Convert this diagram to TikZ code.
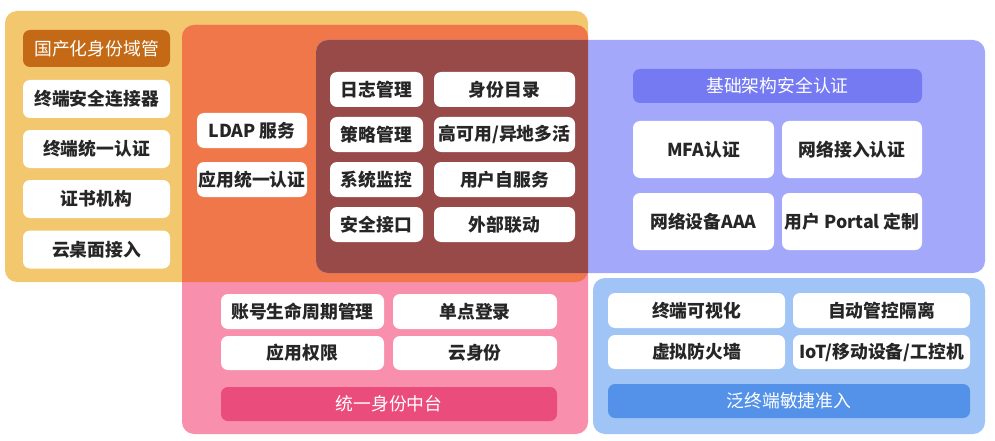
\documentclass[tikz,border=0pt]{standalone}
\usepackage{fontspec}
\setmainfont{Noto Sans CJK SC}
\definecolor{cYellow}{RGB}{243,199,110}
\definecolor{cOrange}{RGB}{239,119,73}
\definecolor{cDark}{RGB}{152,74,72}
\definecolor{cPurple}{RGB}{164,168,250}
\definecolor{cPink}{RGB}{248,143,172}
\definecolor{cBlue}{RGB}{160,196,246}
\definecolor{hBrown}{RGB}{196,106,22}
\definecolor{hPurple}{RGB}{118,122,242}
\definecolor{hPink}{RGB}{234,76,124}
\definecolor{hBlue}{RGB}{84,146,234}
\tikzset{
  cell/.style={fill=white,rounded corners=7pt,inner sep=0pt,text=black!85,
    font=\bfseries\fontsize{17.8}{20}\selectfont},
  head/.style={rounded corners=7pt,inner sep=0pt,text=white,
    font=\fontsize{17.8}{20}\selectfont},
}
\begin{document}
\begin{tikzpicture}[x=1pt,y=-1pt]
  \useasboundingbox[fill=white] (0,0) rectangle (995,441);
  % Regions
  \fill[cYellow,rounded corners=12pt] (5,11) rectangle (588,282);
  \fill[cPink,rounded corners=12pt] (182,25) rectangle (588,434);
  \begin{scope}
    \clip[rounded corners=12pt] (5,11) rectangle (588,282);
    \fill[cOrange,rounded corners=12pt] (182,25) rectangle (588,434);
  \end{scope}
  \fill[cPurple,rounded corners=12pt] (316,40) rectangle (985,273);
  \begin{scope}
    \clip[rounded corners=12pt] (182,25) rectangle (588,434);
    \fill[cDark,rounded corners=12pt] (316,40) rectangle (985,273);
  \end{scope}
  \fill[cBlue,rounded corners=12pt] (593,278) rectangle (985,434);
  % Left column
  \node[head,fill=hBrown,minimum width=147pt,minimum height=37pt] (yuguan) at (96.5,48.5) {国产化身份域管};
  \node[cell,minimum width=147pt,minimum height=38pt] (lianjie) at (96.5,99) {终端安全连接器};
  \node[cell,minimum width=147pt,minimum height=38pt] (zdrz) at (96.5,149) {终端统一认证};
  \node[cell,minimum width=147pt,minimum height=38pt] (zsjg) at (96.5,199) {证书机构};
  \node[cell,minimum width=147pt,minimum height=38pt] (yzm) at (96.5,249.5) {云桌面接入};
  % Orange part
  \node[cell,minimum width=110pt,minimum height=35pt] (ldap) at (252,130.5) {LDAP 服务};
  \node[cell,minimum width=110pt,minimum height=35pt] (yyrz) at (252,179.5) {应用统一认证};
  % Core
  \node[cell,minimum width=93pt,minimum height=35pt] (rizhi) at (376.5,89.5) {日志管理};
  \node[cell,minimum width=93pt,minimum height=35pt] (celue) at (376.5,134.5) {策略管理};
  \node[cell,minimum width=93pt,minimum height=35pt] (jiankong) at (376.5,179.5) {系统监控};
  \node[cell,minimum width=93pt,minimum height=35pt] (jiekou) at (376.5,224.5) {安全接口};
  \node[cell,minimum width=141pt,minimum height=35pt] (mulu) at (504.5,89.5) {身份目录};
  \node[cell,minimum width=141pt,minimum height=35pt] (gaoky) at (504.5,134.5) {高可用/异地多活};
  \node[cell,minimum width=141pt,minimum height=35pt] (zifw) at (504.5,179.5) {用户自服务};
  \node[cell,minimum width=141pt,minimum height=35pt] (liandong) at (504.5,224.5) {外部联动};
  % Infrastructure
  \node[head,fill=hPurple,minimum width=289pt,minimum height=34pt] (jichu) at (777.5,86) {基础架构安全认证};
  \node[cell,minimum width=141pt,minimum height=57pt] (mfa) at (703.5,149.5) {MFA认证};
  \node[cell,minimum width=140pt,minimum height=57pt] (wlrz) at (852,149.5) {网络接入认证};
  \node[cell,minimum width=141pt,minimum height=57pt] (aaa) at (703.5,221.5) {网络设备AAA};
  \node[cell,minimum width=140pt,minimum height=57pt] (portal) at (852,221.5) {用户 Portal 定制};
  % Identity platform
  \node[cell,minimum width=163pt,minimum height=35pt] (zhanghao) at (302.5,311.5) {账号生命周期管理};
  \node[cell,minimum width=164pt,minimum height=35pt] (sso) at (475,311.5) {单点登录};
  \node[cell,minimum width=163pt,minimum height=34pt] (quanxian) at (302.5,353) {应用权限};
  \node[cell,minimum width=164pt,minimum height=34pt] (yunsf) at (475,353) {云身份};
  \node[head,fill=hPink,minimum width=336pt,minimum height=34pt] (zhongtai) at (389,404) {统一身份中台};
  % Endpoint access
  \node[cell,minimum width=177pt,minimum height=35pt] (keshi) at (696.5,310.5) {终端可视化};
  \node[cell,minimum width=177pt,minimum height=35pt] (geli) at (881.5,310.5) {自动管控隔离};
  \node[cell,minimum width=177pt,minimum height=34pt] (fhq) at (696.5,352) {虚拟防火墙};
  \node[cell,minimum width=177pt,minimum height=34pt] (iot) at (881.5,352) {IoT/移动设备/工控机};
  \node[head,fill=hBlue,minimum width=362pt,minimum height=34pt] (zhunru) at (789,401) {泛终端敏捷准入};
\end{tikzpicture}
\end{document}
